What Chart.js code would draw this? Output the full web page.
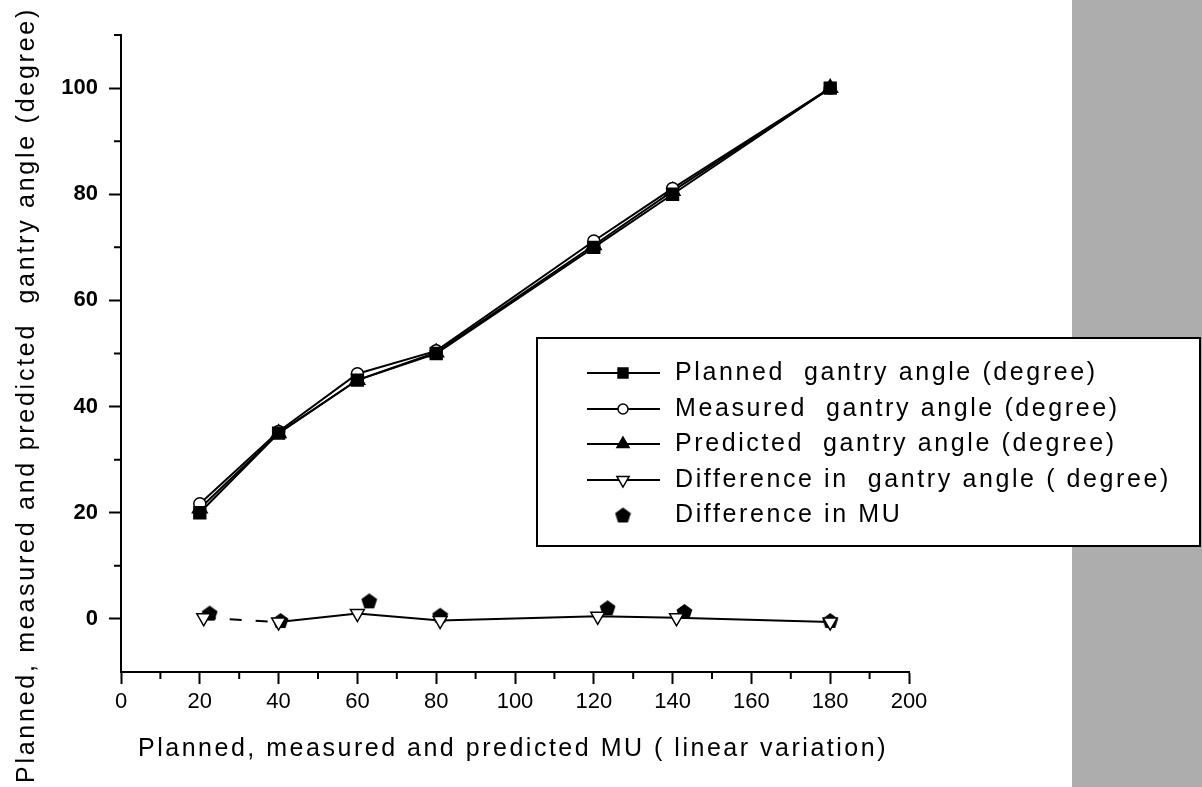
<!DOCTYPE html>
<html>
<head>
<meta charset="utf-8">
<script src="https://cdn.jsdelivr.net/npm/chart.js@4.4.1/dist/chart.umd.min.js"></script>
<style>
  body { margin: 0; background: #fff; }
  #wrap { width: 1202px; height: 787px; }
</style>
</head>
<body>
<div id="wrap"><canvas id="chart" width="1202" height="787"></canvas></div>
<script>
// data
const muValues = [20, 40, 60, 80, 120, 140, 180];
const plannedAngle = [20, 35, 45, 50, 70, 80, 100];
const measuredAngle = [21.7, 35.3, 46.2, 50.5, 71.2, 81.1, 100];
const predictedAngle = [20.8, 35, 45, 50.2, 70.4, 80.6, 100];
const diffAngleX = [21, 40, 60, 81, 121, 141, 180];
const diffAngle = [0.2, -0.6, 1.0, -0.3, 0.5, 0.2, -0.6];
const diffMuX = [22.5, 40.5, 63, 81, 123.5, 143, 180];
const diffMu = [1.1, -0.3, 3.4, 0.7, 2.1, 1.4, -0.3];

const xTitle = 'Planned, measured and predicted MU ( linear variation)';
const yTitle = 'Planned, measured and predicted  gantry angle (degree)';
const legendLabels = [
  'Planned  gantry angle (degree)',
  'Measured  gantry angle (degree)',
  'Predicted  gantry angle (degree)',
  'Difference in  gantry angle ( degree)',
  'Difference in MU'
];

function pts(xs, ys) {
  return xs.map((x, i) => ({ x: x, y: ys[i] }));
}

// spread a string out to a given width (the original uses wide letter spacing)
function spreadText(ctx, text, x, y, width) {
  ctx.letterSpacing = '0px';
  const w = ctx.measureText(text).width;
  ctx.letterSpacing = ((width - w) / text.length) + 'px';
  ctx.fillText(text, x, y);
  ctx.letterSpacing = '0px';
}

// filled pentagon marker
const pent = document.createElement('canvas');
pent.width = 17; pent.height = 17;
(function () {
  const c = pent.getContext('2d');
  c.fillStyle = '#000';
  c.beginPath();
  for (let i = 0; i < 5; i++) {
    const a = -Math.PI / 2 + i * 2 * Math.PI / 5;
    const px = 8.5 + 8.3 * Math.cos(a), py = 9.2 + 8.3 * Math.sin(a);
    if (i === 0) c.moveTo(px, py); else c.lineTo(px, py);
  }
  c.closePath();
  c.fill();
})();

const greyPanel = {
  id: 'greyPanel',
  beforeDraw(chart) {
    const ctx = chart.ctx;
    ctx.save();
    ctx.fillStyle = '#fff';
    ctx.fillRect(0, 0, chart.width, chart.height);
    ctx.fillStyle = '#adadad';
    ctx.fillRect(1072, 0, 130, chart.height);
    ctx.restore();
  }
};

// minor ticks + axis titles
const extras = {
  id: 'extras',
  afterDraw(chart) {
    const ctx = chart.ctx;
    const xs = chart.scales.x, ys = chart.scales.y;
    ctx.save();
    ctx.strokeStyle = '#000';
    ctx.lineWidth = 2;
    ctx.beginPath();
    for (let v = 10; v < 200; v += 20) {
      const px = xs.getPixelForValue(v);
      ctx.moveTo(px, ys.bottom); ctx.lineTo(px, ys.bottom + 7);
    }
    for (let v = 10; v <= 110; v += 20) {
      const py = ys.getPixelForValue(v);
      ctx.moveTo(xs.left, py); ctx.lineTo(xs.left - 7, py);
    }
    ctx.stroke();

    ctx.fillStyle = '#000';
    ctx.font = '25px "Liberation Sans", Arial, sans-serif';
    ctx.textBaseline = 'middle';
    ctx.textAlign = 'left';
    spreadText(ctx, xTitle, 138, 749, 750);

    ctx.translate(27, 783);
    ctx.rotate(-Math.PI / 2);
    spreadText(ctx, yTitle, 0, 0, 776);
    ctx.restore();
  }
};

const boxLegend = {
  id: 'boxLegend',
  afterDraw(chart) {
    const ctx = chart.ctx;
    ctx.save();
    ctx.fillStyle = '#fff';
    ctx.fillRect(537, 338, 663, 208);
    ctx.strokeStyle = '#000';
    ctx.lineWidth = 2;
    ctx.strokeRect(537, 338, 663, 208);
    const rows = [373, 409, 444, 480, 515];
    chart.data.datasets.forEach((ds, i) => {
      const y = rows[i];
      if (ds.showLine !== false) {
        ctx.strokeStyle = '#000';
        ctx.lineWidth = 2;
        ctx.beginPath();
        ctx.moveTo(587, y); ctx.lineTo(660, y);
        ctx.stroke();
      }
      ctx.fillStyle = ds.pointBackgroundColor;
      ctx.strokeStyle = '#000';
      ctx.lineWidth = 1.5;
      Chart.helpers.drawPoint(ctx, {
        pointStyle: ds.pointStyle,
        radius: ds.pointRadius - 1,
        rotation: ds.pointRotation || 0,
        borderWidth: 1.5
      }, 623, y);
      ctx.fillStyle = '#000';
      ctx.font = '25px "Liberation Sans", Arial, sans-serif';
      ctx.textBaseline = 'middle';
      ctx.letterSpacing = '2.6px';
      ctx.fillText(legendLabels[i], 675, y);
      ctx.letterSpacing = '0px';
    });
    ctx.restore();
  }
};

const ctx = document.getElementById('chart').getContext('2d');
new Chart(ctx, {
  type: 'scatter',
  data: {
    datasets: [
      {
        label: legendLabels[0],
        data: pts(muValues, plannedAngle),
        showLine: true,
        borderColor: '#000', borderWidth: 2,
        pointStyle: 'rect', pointRadius: 8,
        pointBackgroundColor: '#000', pointBorderColor: '#000'
      },
      {
        label: legendLabels[1],
        data: pts(muValues, measuredAngle),
        showLine: true,
        borderColor: '#000', borderWidth: 2,
        pointStyle: 'circle', pointRadius: 6,
        pointBackgroundColor: '#fff', pointBorderColor: '#000', pointBorderWidth: 1.5
      },
      {
        label: legendLabels[2],
        data: pts(muValues, predictedAngle),
        showLine: true,
        borderColor: '#000', borderWidth: 2,
        pointStyle: 'triangle', pointRadius: 8,
        pointBackgroundColor: '#000', pointBorderColor: '#000'
      },
      {
        label: legendLabels[3],
        data: pts(diffAngleX, diffAngle),
        showLine: true,
        borderColor: '#000', borderWidth: 2,
        segment: {
          borderDash: c => c.p0DataIndex === 0 ? [12, 14] : undefined
        },
        pointStyle: 'triangle', pointRotation: 180, pointRadius: 8,
        pointBackgroundColor: '#fff', pointBorderColor: '#000', pointBorderWidth: 1.5
      },
      {
        label: legendLabels[4],
        data: pts(diffMuX, diffMu),
        showLine: false,
        pointStyle: pent, pointRadius: 8,
        pointBackgroundColor: '#000', pointBorderColor: '#000'
      }
    ]
  },
  options: {
    responsive: false,
    animation: false,
    layout: { padding: { left: 0, top: 35, right: 293, bottom: 0 } },
    plugins: { legend: { display: false }, tooltip: { enabled: false } },
    scales: {
      x: {
        type: 'linear', min: 0, max: 200,
        afterFit: s => { s.height = 115; },
        border: { display: true, color: '#000', width: 2 },
        grid: {
          drawOnChartArea: false, tickLength: 12,
          tickColor: c => (c.tick && c.tick.value % 20 === 0) ? '#000' : 'rgba(0,0,0,0)',
          tickWidth: 2
        },
        ticks: {
          stepSize: 10, padding: 5, color: '#000', maxRotation: 0, autoSkip: false,
          font: { family: '"Liberation Sans", Arial, sans-serif', size: 22 },
          callback: v => v % 20 === 0 ? v : ''
        }
      },
      y: {
        type: 'linear', min: -10, max: 110,
        afterFit: s => { s.width = 121; },
        border: { display: true, color: '#000', width: 2 },
        grid: {
          drawOnChartArea: false, tickLength: 12,
          tickColor: c => (c.tick && c.tick.value % 20 === 0) ? '#000' : 'rgba(0,0,0,0)',
          tickWidth: 2
        },
        ticks: {
          stepSize: 10, padding: 11, color: '#000', autoSkip: false,
          font: { family: '"Liberation Sans", Arial, sans-serif', size: 22, weight: 'bold' },
          callback: v => (v % 20 === 0 && v >= 0 && v <= 100) ? v : ''
        }
      }
    }
  },
  plugins: [greyPanel, extras, boxLegend]
});
</script>
</body>
</html>
